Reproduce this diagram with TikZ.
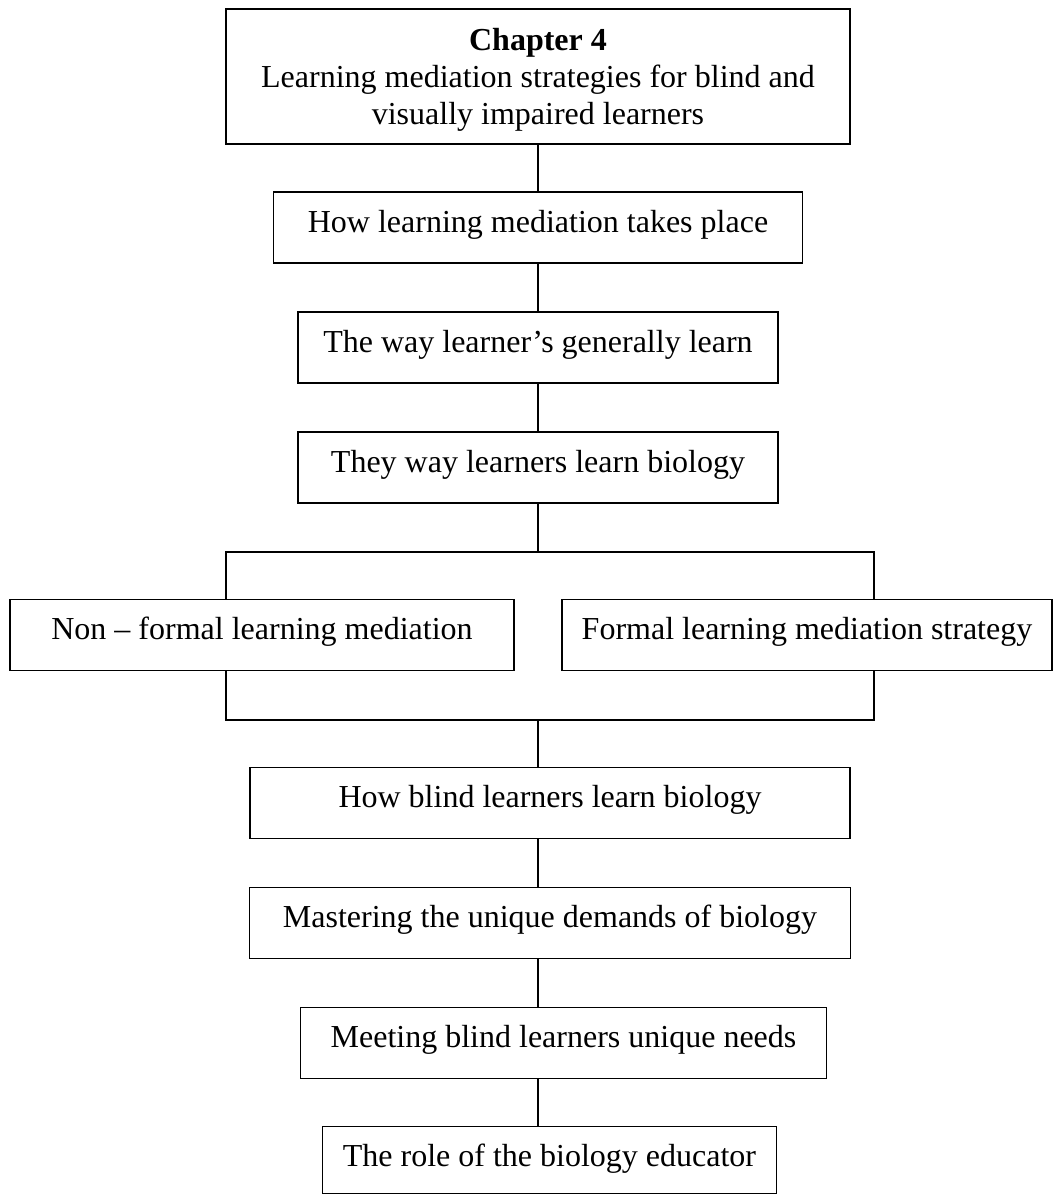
\documentclass[tikz,border=0pt]{standalone}
\usepackage{fontspec}
\setmainfont{Liberation Serif}
\usepackage{tikz}

\tikzset{
  frame/.style={draw,line width=0.9pt,inner sep=0pt,font=\fontsize{16}{18.5}\selectfont},
  box/.style={frame,text height=12pt,text depth=7.5pt,minimum height=35.5pt}
}

\begin{document}
\begin{tikzpicture}[x=0.5pt,y=-0.5pt,node distance=60pt]
      \useasboundingbox (0,0) rectangle (1053,1196);
      \node[frame,align=center,minimum width=312pt,minimum height=67.5pt] (chap) at (538,76.5)
        {\rule{0pt}{14pt}\textbf{Chapter 4}\\Learning mediation strategies for blind and\\visually impaired learners};
      \node[box,minimum width=264.5pt,below of=chap,yshift=-15.5pt] (how) {How learning mediation takes place};
      \node[box,minimum width=240pt,below of=how] (way) {The way learner’s generally learn};
      \node[box,minimum width=240pt,below of=way] (they) {They way learners learn biology};
      \node[box,minimum width=252pt,below of=they,yshift=-23.75pt,xshift=-138pt] (nonformal) {Non – formal learning mediation};
      \node[box,minimum width=245pt,below of=they,yshift=-23.75pt,xshift=134.5pt] (formal) {Formal learning mediation strategy};
      \node[box,minimum width=300pt,below of=they,yshift=-107.75pt,xshift=6pt] (howblind) {How blind learners learn biology};
      \node[box,minimum width=300.5pt,below of=howblind] (master) {Mastering the unique demands of biology};
      \node[box,minimum width=263pt,below of=master,xshift=6.75pt] (meet) {Meeting blind learners unique needs};
      \node[box,minimum width=227pt,minimum height=33.5pt,text depth=5.5pt,below of=meet,yshift=1.5pt,xshift=-7pt] (role) {The role of the biology educator};

      \coordinate (split) at (538,552);
      \coordinate (splitL) at (226,552);
      \coordinate (splitR) at (874,552);
      \coordinate (join) at (538,720);
      \coordinate (joinL) at (226,720);
      \coordinate (joinR) at (874,720);

      \draw[line width=0.9pt] (chap) -- (how);
      \draw[line width=0.9pt] (how) -- (way);
      \draw[line width=0.9pt] (way) -- (they);
      \draw[line width=0.9pt] (they) -- (split);
      \draw[line width=0.9pt] (nonformal.north -| splitL) -- (splitL) -- (splitR) -- (formal.north -| splitR);
      \draw[line width=0.9pt] (nonformal.south -| joinL) -- (joinL) -- (joinR) -- (formal.south -| joinR);
      \draw[line width=0.9pt] (join) -- (join |- howblind.north);
      \draw[line width=0.9pt] (howblind.south -| join) -- (master.north -| join);
      \draw[line width=0.9pt] (master.south -| join) -- (meet.north -| join);
      \draw[line width=0.9pt] (meet.south -| join) -- (role.north -| join);
    \end{tikzpicture}
\end{document}
